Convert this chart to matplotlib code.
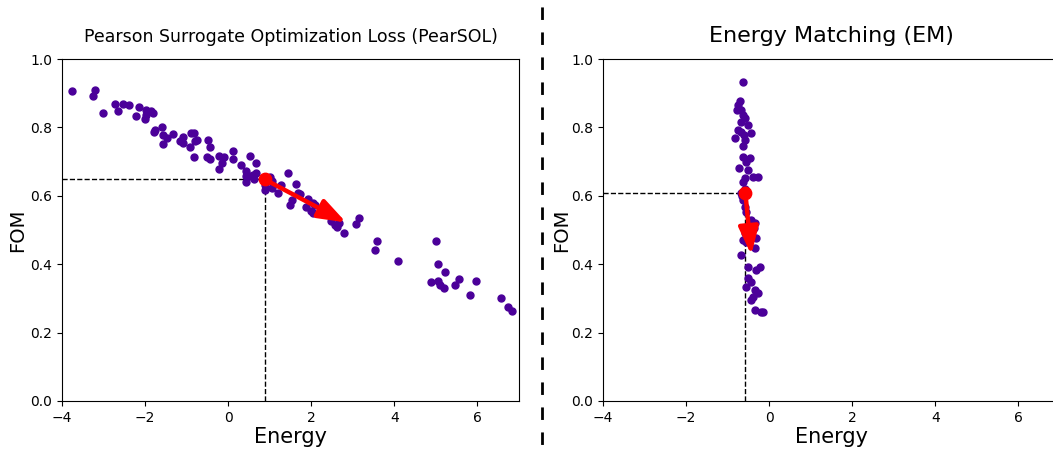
import matplotlib
matplotlib.use("Agg")
import matplotlib.pyplot as plt
from matplotlib.lines import Line2D

# PearSOL panel
pearsol_energy = [
    -3.75, -3.21, -3.25, -3.01, -2.73, -2.65, -2.53, -2.39, -2.14, -2.21,
    -1.98, -1.99, -2.00, -1.85, -1.81, -1.76, -1.78, -1.60, -1.58, -1.48,
    -1.56, -1.33, -1.17, -1.10, -1.10, -0.90, -0.83, -0.80, -0.76, -0.92,
    -0.83, -0.49, -0.43, -0.50, -0.44, -0.22, -0.11, -0.15, -0.21, 0.12,
    0.12, 0.30, 0.52, 0.67, 0.44, 0.50, 0.42, 0.42, 0.60, 0.66,
    0.62, 0.88, 0.89, 1.01, 1.05, 1.05, 1.20, 1.28, 1.43, 1.49,
    1.54, 1.62, 1.68, 1.72, 1.87, 1.92, 2.04, 2.08, 2.04, 2.00,
    2.47, 2.56, 2.63, 2.67, 2.78, 3.08, 3.14, 3.59, 3.54, 4.08,
    5.01, 5.06, 5.21, 4.89, 5.05, 5.09, 5.19, 5.55, 5.46, 5.97,
    5.82, 6.57, 6.73, 6.82,
]
pearsol_fom = [
    0.907, 0.909, 0.893, 0.841, 0.868, 0.847, 0.870, 0.866, 0.860, 0.834,
    0.851, 0.836, 0.825, 0.848, 0.843, 0.794, 0.787, 0.802, 0.778, 0.770,
    0.752, 0.781, 0.761, 0.773, 0.755, 0.783, 0.784, 0.760, 0.763, 0.742,
    0.713, 0.763, 0.742, 0.714, 0.708, 0.716, 0.713, 0.695, 0.678, 0.731,
    0.708, 0.690, 0.716, 0.696, 0.673, 0.658, 0.659, 0.639, 0.661, 0.668,
    0.650, 0.632, 0.617, 0.656, 0.644, 0.622, 0.607, 0.632, 0.667, 0.573,
    0.588, 0.635, 0.607, 0.605, 0.568, 0.590, 0.580, 0.573, 0.551, 0.556,
    0.526, 0.515, 0.508, 0.520, 0.491, 0.517, 0.534, 0.468, 0.441, 0.409,
    0.467, 0.400, 0.378, 0.347, 0.350, 0.340, 0.330, 0.356, 0.339, 0.351,
    0.311, 0.302, 0.276, 0.262,
]
pearsol_start = (0.88, 0.648)
pearsol_end = (2.84, 0.522)

# EM panel
em_energy = [
    -0.63, -0.69, -0.75, -0.77, -0.67, -0.63, -0.59, -0.67, -0.50, -0.75,
    -0.67, -0.43, -0.61, -0.82, -0.59, -0.63, -0.63, -0.45, -0.55, -0.72,
    -0.51, -0.59, -0.39, -0.27, -0.67, -0.63, -0.59, -0.55, -0.43, -0.35,
    -0.37, -0.59, -0.51, -0.63, -0.55, -0.31, -0.35, -0.67, -0.50, -0.23,
    -0.31, -0.51, -0.43, -0.55, -0.35, -0.27, -0.39, -0.43, -0.35, -0.19,
    -0.15, -0.62, -0.57, -0.66,
]
em_fom = [
    0.934, 0.878, 0.865, 0.851, 0.851, 0.836, 0.827, 0.817, 0.807, 0.792,
    0.787, 0.783, 0.778, 0.768, 0.763, 0.746, 0.714, 0.710, 0.700, 0.680,
    0.675, 0.651, 0.656, 0.654, 0.607, 0.588, 0.568, 0.554, 0.529, 0.520,
    0.505, 0.490, 0.485, 0.471, 0.466, 0.476, 0.446, 0.427, 0.391, 0.391,
    0.383, 0.359, 0.349, 0.334, 0.325, 0.317, 0.303, 0.295, 0.266, 0.261,
    0.261, 0.640, 0.620, 0.600,
]
em_start = (-0.57, 0.607)
em_end = (-0.43, 0.427)

dot_color = "#4b0099"

fig = plt.figure(figsize=(10.53, 4.51), dpi=100)
ax1 = fig.add_axes([0.0589, 0.111, 0.434, 0.758])
ax2 = fig.add_axes([0.5726, 0.111, 0.434, 0.758])

panels = [
    (ax1, pearsol_energy, pearsol_fom, pearsol_start, pearsol_end,
     "Pearson Surrogate Optimization Loss (PearSOL)", 12.5, 2),
    (ax2, em_energy, em_fom, em_start, em_end, "Energy Matching (EM)", 16, 0),
]

for ax, xs, ys, start, end, title, tsize, ypad in panels:
    ax.scatter(xs, ys, s=25, color=dot_color, zorder=2)
    ax.plot([-4, start[0]], [start[1], start[1]], ls="--", color="black", lw=1, zorder=1)
    ax.plot([start[0], start[0]], [0, start[1]], ls="--", color="black", lw=1, zorder=1)
    ax.scatter([start[0]], [start[1]], s=80, color="red", zorder=4)
    ax.annotate("", xy=end, xytext=start,
                arrowprops=dict(arrowstyle="-|>,head_length=1.4,head_width=0.5",
                                color="red", lw=3.2, mutation_scale=12,
                                shrinkA=0, shrinkB=0),
                zorder=5)
    ax.set_xlim(-4, 7)
    ax.set_ylim(0, 1)
    ax.set_xticks([-4, -2, 0, 2, 4, 6])
    ax.set_yticks([0.0, 0.2, 0.4, 0.6, 0.8, 1.0])
    ax.set_title(title, fontsize=tsize, pad=12)
    ax.set_xlabel("Energy", fontsize=15, labelpad=2)
    ax.set_ylabel("FOM", fontsize=14, labelpad=ypad)

# dashed divider between panels
fig.add_artist(Line2D([0.5143, 0.5143], [1.0, 0.0], transform=fig.transFigure,
                      color="black", lw=2, linestyle=(6.5, (4.5, 4.5))))

fig.savefig("out.png", dpi=100)
